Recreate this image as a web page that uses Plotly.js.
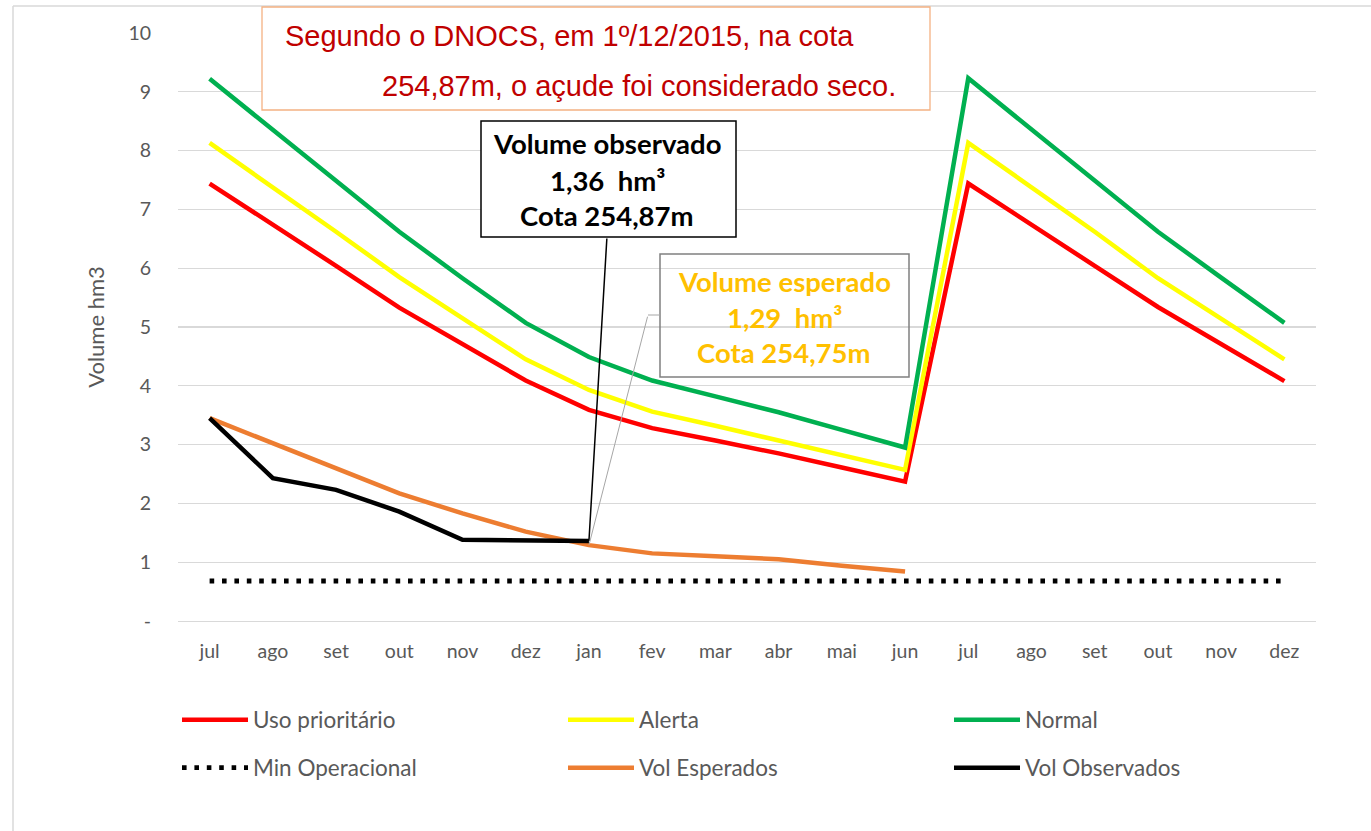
<!DOCTYPE html>
<html><head><meta charset="utf-8">
<script src="https://cdn.plot.ly/plotly-3.0.1.min.js"></script>
<style>html,body{margin:0;padding:0;background:#fff;} #chart{width:1371px;height:831px;}</style>
</head><body><div id="chart"></div>
<script>
const months = ['jul','ago','set','out','nov','dez','jan','fev','mar','abr','mai','jun','jul','ago','set','out','nov','dez'];
const usoPrioritario = [7.44, 6.75, 6.04, 5.33, 4.71, 4.09, 3.59, 3.28, 3.07, 2.85, 2.61, 2.37, 7.44, 6.75, 6.04, 5.34, 4.70, 4.08];
const alerta = [8.13, 7.38, 6.62, 5.85, 5.15, 4.45, 3.93, 3.56, 3.32, 3.07, 2.82, 2.57, 8.13, 7.38, 6.62, 5.83, 5.13, 4.45];
const normal = [9.22, 8.36, 7.48, 6.62, 5.83, 5.07, 4.49, 4.09, 3.82, 3.55, 3.25, 2.95, 9.23, 8.36, 7.49, 6.62, 5.84, 5.07];
const minOperacional = [0.68, 0.68, 0.68, 0.68, 0.68, 0.68, 0.68, 0.68, 0.68, 0.68, 0.68, 0.68, 0.68, 0.68, 0.68, 0.68, 0.68, 0.68];
const volEsperados = [3.45, 3.02, 2.59, 2.17, 1.83, 1.52, 1.29, 1.15, 1.10, 1.05, 0.94, 0.84];
const volObservados = [3.45, 2.43, 2.23, 1.86, 1.38, 1.37, 1.36];
const yTickVals = [0,1,2,3,4,5,6,7,8,9,10];
const yTickText = ['-','1','2','3','4','5','6','7','8','9','10'];

const idx = arr => arr.map((v,i)=>i);
const L=178,R=1316,T=33,B=621;
const px = p => (p-L)/(R-L);
const py = p => (B-p)/(B-T);
const FONT = 'Lato, "Open Sans", sans-serif';
const GREY = '#595959';

const traces = [
  {x: idx(usoPrioritario), y: usoPrioritario, name:'Uso prioritário', mode:'lines', line:{color:'#ff0000', width:4.5}, legend:'legend'},
  {x: idx(alerta), y: alerta, name:'Alerta', mode:'lines', line:{color:'#ffff00', width:4.5}, legend:'legend'},
  {x: idx(normal), y: normal, name:'Normal', mode:'lines', line:{color:'#00b050', width:4.5}, legend:'legend'},
  {x: idx(minOperacional), y: minOperacional, name:'Min Operacional', mode:'lines', line:{color:'#000000', width:4.8, dash:'4.6px,7.8px'}, legend:'legend2'},
  {x: idx(volEsperados), y: volEsperados, name:'Vol Esperados', mode:'lines', line:{color:'#ed7d31', width:4.5}, legend:'legend2'},
  {x: idx(volObservados), y: volObservados, name:'Vol Observados', mode:'lines', line:{color:'#000000', width:4.5}, legend:'legend2'}
];

const legendBase = {orientation:'h', xanchor:'left', yanchor:'middle', font:{family:FONT, size:22.5, color:GREY},
  entrywidth:305, entrywidthmode:'pixels', bgcolor:'rgba(0,0,0,0)', traceorder:'normal', itemwidth:66};

const layout = {
  width:1371, height:831, autosize:false,
  margin:{l:L, r:1371-R, t:T, b:831-B},
  paper_bgcolor:'#ffffff', plot_bgcolor:'#ffffff',
  showlegend:true,
  xaxis:{range:[-0.5,17.5], tickvals: idx(months), ticktext: months, showgrid:false, zeroline:false,
    showline:true, linecolor:'#d9d9d9', linewidth:1.3, ticks:'', ticklabelstandoff:12,
    tickfont:{family:FONT, size:19.5, color:GREY}, fixedrange:true},
  yaxis:{range:[0,10], tickvals:yTickVals, ticktext:yTickText, showgrid:true, gridcolor:'#d9d9d9', gridwidth:1.3,
    zeroline:false, showline:false, ticks:'', ticklabelstandoff:26,
    tickfont:{family:FONT, size:19.5, color:GREY}, fixedrange:true,
    title:{text:'Volume hm3', font:{family:FONT, size:22, color:GREY}, standoff:17}},
  legend: Object.assign({}, legendBase, {x: px(177), y: py(720)}),
  legend2: Object.assign({}, legendBase, {x: px(177), y: py(768)}),
  shapes:[
    {type:'line', xref:'paper', yref:'paper', x0:px(13), x1:px(1380), y0:py(6), y1:py(6), line:{color:'#d9d9d9', width:1.5}},
    {type:'line', xref:'paper', yref:'paper', x0:px(13), x1:px(13), y0:py(6), y1:py(840), line:{color:'#d9d9d9', width:1.5}},
    {type:'rect', xref:'paper', yref:'paper', x0:px(262), x1:px(930), y0:py(110), y1:py(7), line:{color:'#f4b183', width:1.3}, fillcolor:'#ffffff', layer:'above'},
    {type:'rect', xref:'paper', yref:'paper', x0:px(481), x1:px(736), y0:py(237), y1:py(121), line:{color:'#000000', width:1.5}, fillcolor:'#ffffff', layer:'above'},
    {type:'rect', xref:'paper', yref:'paper', x0:px(660), x1:px(909), y0:py(377), y1:py(254), line:{color:'#808080', width:1.5}, fillcolor:'rgba(0,0,0,0)', layer:'above'},
    {type:'line', xref:'paper', yref:'paper', x0:px(648), x1:px(660), y0:py(315), y1:py(315), line:{color:'#a6a6a6', width:1}}
  ],
  annotations:[
    {xref:'paper', yref:'paper', x:px(283), y:py(36), xanchor:'left', yanchor:'middle', showarrow:false,
      text:'Segundo o DNOCS, em 1º/12/2015, na cota', font:{family:'"Liberation Sans", Arial, sans-serif', size:29, color:'#c00000'}},
    {xref:'paper', yref:'paper', x:px(898), y:py(86), xanchor:'right', yanchor:'middle', showarrow:false,
      text:'254,87m, o açude foi considerado seco.', font:{family:'"Liberation Sans", Arial, sans-serif', size:29, color:'#c00000'}},
    {xref:'paper', yref:'paper', x:px(607), y:py(143), xanchor:'center', yanchor:'middle', showarrow:false,
      text:'Volume observado', font:{family:FONT, size:27.5, color:'#000000', weight:700}},
    {xref:'paper', yref:'paper', x:px(607), y:py(180), xanchor:'center', yanchor:'middle', showarrow:false,
      text:'1,36\u00a0 hm³', font:{family:FONT, size:27.5, color:'#000000', weight:700}},
    {xref:'paper', yref:'paper', x:px(607), y:py(216), xanchor:'center', yanchor:'middle', showarrow:false,
      text:'Cota 254,87m', font:{family:FONT, size:27.5, color:'#000000', weight:700}},
    {xref:'paper', yref:'paper', x:px(784), y:py(281), xanchor:'center', yanchor:'middle', showarrow:false,
      text:'Volume esperado', font:{family:FONT, size:27.5, color:'#ffc000', weight:700}},
    {xref:'paper', yref:'paper', x:px(784), y:py(317), xanchor:'center', yanchor:'middle', showarrow:false,
      text:'1,29\u00a0 hm³', font:{family:FONT, size:27.5, color:'#ffc000', weight:700}},
    {xref:'paper', yref:'paper', x:px(784), y:py(353), xanchor:'center', yanchor:'middle', showarrow:false,
      text:'Cota 254,75m', font:{family:FONT, size:27.5, color:'#ffc000', weight:700}},
    {x:6, y:volObservados[6], xref:'x', yref:'y', text:'', showarrow:true, arrowhead:0, arrowwidth:1.5, arrowcolor:'#000000', ax:18, ay:-304},
    {x:6, y:volEsperados[6], xref:'x', yref:'y', text:'', showarrow:true, arrowhead:0, arrowwidth:1, arrowcolor:'#a6a6a6', ax:59, ay:-230}
  ]
};

Plotly.newPlot('chart', traces, layout, {displayModeBar:false, staticPlot:true});
</script>
</body></html>
